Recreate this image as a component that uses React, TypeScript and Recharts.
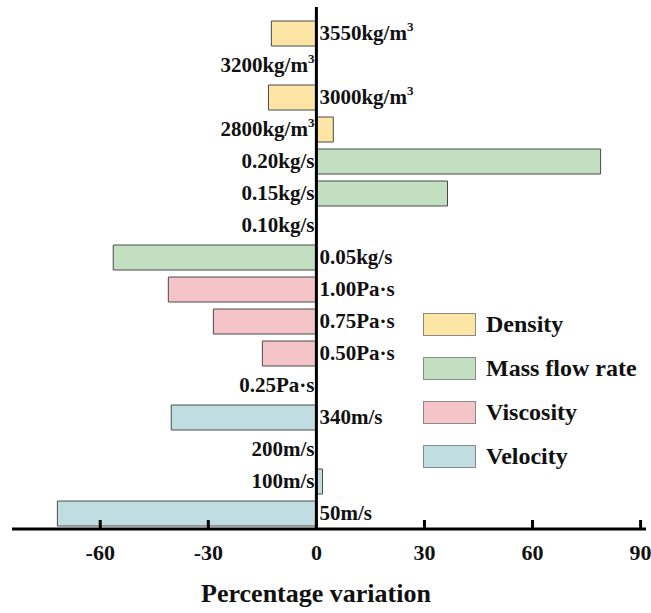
import { BarChart, Bar, XAxis, YAxis, Cell, ReferenceLine, ReferenceDot } from "recharts";

const categories = [
  "3550kg/m³", "3200kg/m³", "3000kg/m³", "2800kg/m³",
  "0.20kg/s", "0.15kg/s", "0.10kg/s", "0.05kg/s",
  "1.00Pa·s", "0.75Pa·s", "0.50Pa·s", "0.25Pa·s",
  "340m/s", "200m/s", "100m/s", "50m/s",
];
const variation = [-12.5, 0, -13.3, 4.7, 78.9, 36.4, 0, -56.4, -41.1, -28.6, -15, 0, -40.3, 0, 1.7, -71.9];
const groupOf = [0, 0, 0, 0, 1, 1, 1, 1, 2, 2, 2, 2, 3, 3, 3, 3];
const groupNames = ["Density", "Mass flow rate", "Viscosity", "Velocity"];
const groupColors = ["#fde5a6", "#c2dfc2", "#f4c4c9", "#c0dde1"];
const xTicks = [-60, -30, 0, 30, 60, 90];

const data = categories.map((name, i) => ({ name, value: variation[i] }));

const FONT = '"Liberation Serif", "Times New Roman", serif';

function XTick({ x, y, payload }: any) {
  return (
    <g>
      <line x1={x} x2={x} y1={y} y2={y - 9} stroke="#000" strokeWidth={3} />
      <text
        x={x}
        y={y + 23}
        dy="0.35em"
        textAnchor="middle"
        fontFamily={FONT}
        fontWeight="bold"
        fontSize={22}
        fill="#111"
      >
        {payload.value}
      </text>
    </g>
  );
}

// category name sits beside the zero line, on the side away from the bar
function catLabel(i: number) {
  return (props: any) => {
    const { cx, cy } = props;
    const onRight = variation[i] < 0;
    const name = categories[i];
    const sup = name.endsWith("³");
    const main = sup ? name.slice(0, -1) : name;
    return (
      <text
        x={onRight ? cx + 3 : cx - 2}
        y={cy}
        dy="0.35em"
        textAnchor={onRight ? "start" : "end"}
        fontFamily={FONT}
        fontWeight="bold"
        fontSize={21}
        fill="#111"
      >
        {main}
        {sup && (
          <tspan fontSize={13} dy={-9}>
            3
          </tspan>
        )}
      </text>
    );
  };
}

function TitleLabel({ viewBox }: any) {
  return (
    <text
      x={viewBox.x + viewBox.width / 2 - 13}
      y={593}
      dy="0.35em"
      textAnchor="middle"
      fontFamily={FONT}
      fontWeight="bold"
      fontSize={26}
      fill="#111"
    >
      Percentage variation
    </text>
  );
}

export default function App() {
  return (
    <div style={{ position: "absolute", left: 0, top: 0, width: 651, height: 613, background: "#fff" }}>
      <BarChart
        width={651}
        height={613}
        data={data}
        layout="vertical"
        margin={{ top: 7, right: 5, left: 12, bottom: 0 }}
        barSize={25}
      >
        <XAxis
          type="number"
          domain={[-84.5, 91.5]}
          ticks={xTicks}
          allowDataOverflow
          height={84}
          tickSize={0}
          tickMargin={0}
          tickLine={false}
          axisLine={{ stroke: "#000", strokeWidth: 3 }}
          tick={<XTick />}
          label={<TitleLabel />}
        />
        <YAxis type="category" dataKey="name" hide padding={{ top: 10, bottom: 0 }} />
        <Bar dataKey="value" stroke="#4a4a4a" strokeWidth={1} isAnimationActive={false}>
          {data.map((d, i) => (
            <Cell key={d.name} fill={groupColors[groupOf[i]]} />
          ))}
        </Bar>
        <ReferenceLine x={0} stroke="#000" strokeWidth={3} />
        {categories.map((c, i) => (
          <ReferenceDot key={c} x={0} y={c} r={0} shape={catLabel(i)} />
        ))}
      </BarChart>
      <div style={{ position: "absolute", left: 423, top: 313, fontFamily: FONT }}>
        {groupNames.map((g, i) => (
          <div key={g} style={{ display: "flex", alignItems: "center", height: 23, marginBottom: 21 }}>
            <div
              style={{
                width: 51,
                height: 21,
                background: groupColors[i],
                border: "1px solid #8a8a8a",
              }}
            />
            <span style={{ marginLeft: 10, fontSize: 24, fontWeight: "bold", color: "#111", whiteSpace: "nowrap" }}>
              {g}
            </span>
          </div>
        ))}
      </div>
    </div>
  );
}
